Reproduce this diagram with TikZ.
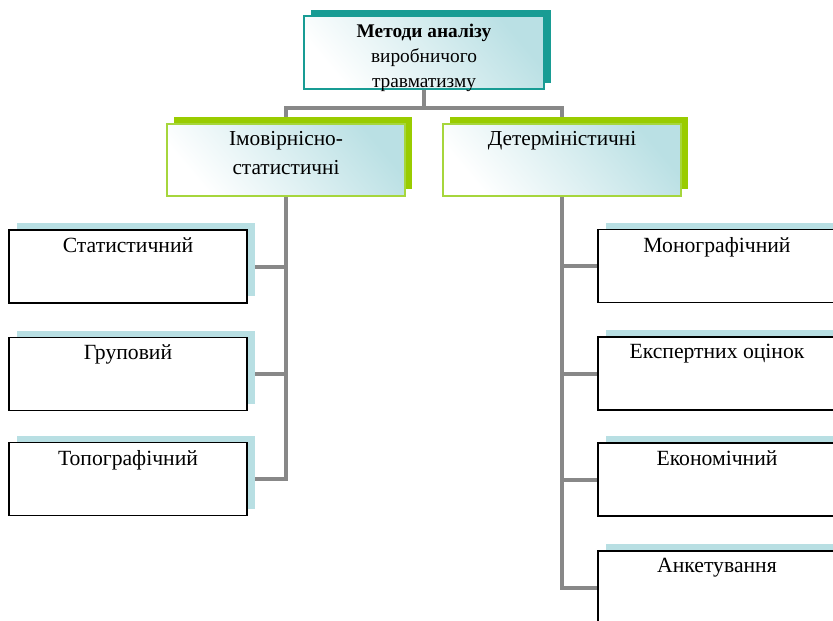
\documentclass[tikz,border=0pt]{standalone}
\usepackage{fontspec}
\setmainfont{Liberation Serif}
\usetikzlibrary{shadows,backgrounds}
\definecolor{tealdark}{RGB}{24,156,148}
\definecolor{tealpale}{RGB}{186,224,228}
\definecolor{greenmain}{RGB}{153,204,0}
\definecolor{greenedge}{RGB}{166,214,60}
\definecolor{shadowblue}{RGB}{184,223,227}
\definecolor{conngray}{RGB}{136,136,136}
\begin{document}
\begin{tikzpicture}[x=0.75pt,y=-0.75pt,
  topbox/.style={draw=tealdark, line width=1.5pt, top color=tealpale, bottom color=white, shading angle=-50,
    minimum width=180pt, minimum height=54.75pt, inner sep=0pt,
    general shadow={fill=tealdark, shadow xshift=5pt, shadow yshift=4.5pt}},
  midbox/.style={draw=greenedge, line width=1.5pt, top color=tealpale, bottom color=white, shading angle=-50,
    minimum width=178.5pt, minimum height=54pt, inner sep=0pt,
    general shadow={fill=greenmain, shadow xshift=5.25pt, shadow yshift=5pt}},
  leafbox/.style={draw=black, line width=1.2pt, fill=white,
    minimum width=178.5pt, minimum height=54.75pt, inner sep=0pt,
    general shadow={fill=shadowblue, shadow xshift=6pt, shadow yshift=5pt}},
  toptext/.style={anchor=north, inner sep=0pt, yshift=-6.5pt, align=center,
    font=\fontsize{14.5pt}{18.75pt}\selectfont},
  midtext/.style={anchor=north, inner sep=0pt, yshift=-6pt, align=center,
    font=\fontsize{16pt}{21.75pt}\selectfont},
  leaftext/.style={anchor=north, inner sep=0pt, yshift=-6pt,
    font=\fontsize{16.25pt}{19pt}\selectfont},
  conn/.style={draw=conngray, line width=3pt}]
\useasboundingbox (0,0) rectangle (833,621);
\clip (0,0) rectangle (833,621);

\node[topbox, label={[toptext]north:{\textbf{Методи аналізу}\\виробничого\\травматизму}}] (top) at (424,52.5) {};

\node[midbox, label={[midtext]north:{Імовірнісно-\\статистичні}}] (prob) at (286,160) {};
\node[midbox, label={[midtext]north:{Детерміністичні}}] (det) at (562,160) {};

\node[leafbox, label={[leaftext]north:Статистичний}] (stat) at (128,266.5) {};
\node[leafbox, label={[leaftext]north:Груповий}] (grup) at (128,374) {};
\node[leafbox, label={[leaftext]north:Топографічний}] (topo) at (128,479) {};

\node[leafbox, label={[leaftext]north:Монографічний}] (mono) at (717,266) {};
\node[leafbox, label={[leaftext]north:Експертних оцінок}] (expert) at (717,373.5) {};
\node[leafbox, label={[leaftext]north:Економічний}] (econ) at (717,479.5) {};
\node[leafbox, label={[leaftext]north:Анкетування}] (anket) at (717,587.5) {};

\begin{pgfonlayer}{background}
  \coordinate (split) at ([yshift=-13.5pt]top.south);
  \draw[conn] (top.south) -- (split);
  \draw[conn] (prob.north) |- (split) -| (det.north);
  \draw[conn] (prob.south) |- (topo.east);
  \draw[conn] (prob.south |- stat.east) -- (stat.east);
  \draw[conn] (prob.south |- grup.east) -- (grup.east);
  \draw[conn] (det.south) |- (anket.west);
  \draw[conn] (det.south |- mono.west) -- (mono.west);
  \draw[conn] (det.south |- expert.west) -- (expert.west);
  \draw[conn] (det.south |- econ.west) -- (econ.west);
\end{pgfonlayer}
\end{tikzpicture}
\end{document}
